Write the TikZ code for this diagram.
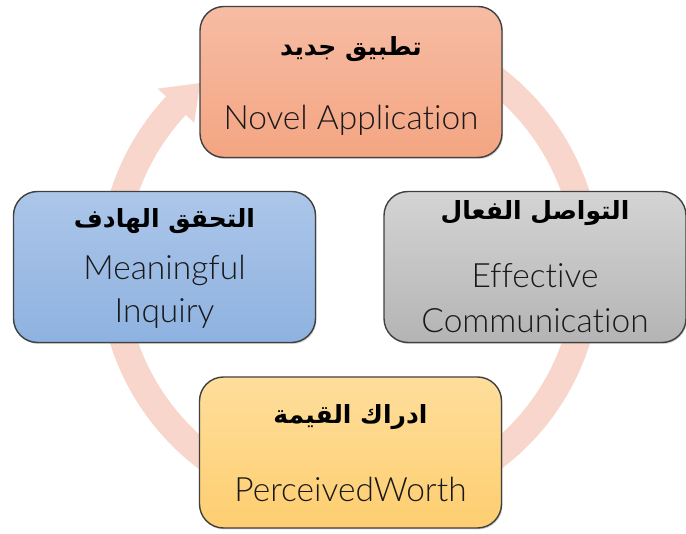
\documentclass[tikz,border=0pt]{standalone}
\usepackage{fontspec}
\usetikzlibrary{calc,shadows}
\TeXXeTstate=1
\newfontfamily\arabicfont[Script=Arabic]{DejaVu Sans}
\newfontfamily\engfont[Ligatures=NoCommon]{Lato Light}
\definecolor{arrowpink}{RGB}{248,214,203}
\definecolor{boxborder}{RGB}{64,64,64}
\definecolor{redtop}{RGB}{246,188,164}
\definecolor{redbot}{RGB}{244,165,130}
\definecolor{bluetop}{RGB}{172,198,233}
\definecolor{bluebot}{RGB}{142,178,224}
\definecolor{graytop}{RGB}{212,212,212}
\definecolor{graybot}{RGB}{180,180,180}
\definecolor{yeltop}{RGB}{254,222,156}
\definecolor{yelbot}{RGB}{254,206,112}
\tikzset{
  cbox/.style={rounded corners=24pt, draw=boxborder, line width=1.4pt,
    minimum width=302pt, minimum height=151pt, inner sep=0pt,
    drop shadow={shadow xshift=1pt, shadow yshift=-1.5pt, opacity=0.35}},
  artxt/.style={font=\arabicfont\bfseries\fontsize{25}{29}\selectfont, anchor=base, inner sep=0pt},
  entxt/.style={font=\engfont\fontsize{33.5}{38}\selectfont, anchor=base, inner sep=0pt, text=black!90}
}
\begin{document}
\begin{tikzpicture}[x=1pt,y=-1pt]
\useasboundingbox (0,0) rectangle (686,534);
\coordinate (C) at (350,268);
% circular arrow
\draw[arrowpink, line width=27pt] (C) ++(290:238) arc[start angle=290, end angle=584, radius=238];
\fill[arrowpink] ($(C)+(223:263)$) -- ($(C)+(231:238)$) -- ($(C)+(223:213)$) -- cycle;
% boxes
\node[cbox, top color=redtop, bottom color=redbot] (top) at (351,82) {};
\node[cbox, top color=bluetop, bottom color=bluebot] (left) at (164.5,267) {};
\node[cbox, top color=graytop, bottom color=graybot] (right) at (535,267) {};
\node[cbox, top color=yeltop, bottom color=yelbot] (bottom) at (350.5,452.5) {};
% texts
\node[artxt] (topar) at (351,56) {\beginR تطبيق جديد\endR};
\node[entxt] (topen) at (351,130) {Novel Application};
\node[artxt] (leftar) at (164.5,228) {\beginR التحقق الهادف\endR};
\node[entxt] (leften1) at (164.5,280) {Meaningful};
\node[entxt] (leften2) at (164.5,323) {Inquiry};
\node[artxt] (rightar) at (535,220) {\beginR التواصل الفعال\endR};
\node[entxt] (righten1) at (535,288) {Effective};
\node[entxt] (righten2) at (535,333) {Communication};
\node[artxt] (bottomar) at (350.5,424) {\beginR ادراك القيمة\endR};
\node[entxt] (bottomen) at (350.5,502) {PerceivedWorth};
\end{tikzpicture}
\end{document}
